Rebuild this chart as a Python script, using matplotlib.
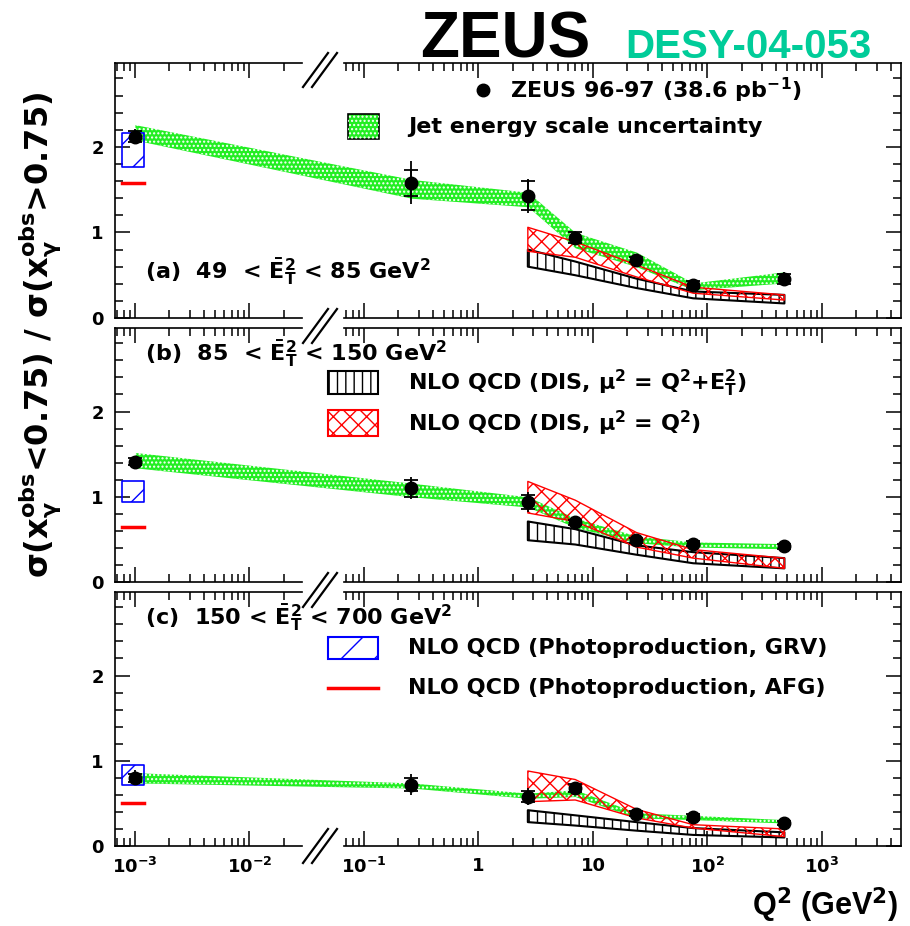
import matplotlib.pyplot as plt
from matplotlib.lines import Line2D
from matplotlib.patches import Rectangle
from matplotlib.ticker import FixedLocator, FixedFormatter, NullFormatter, MultipleLocator

plt.rcParams['font.family'] = ['DejaVu Sans']
plt.rcParams['font.weight'] = 'bold'
plt.rcParams['mathtext.default'] = 'bf'
plt.rcParams['hatch.linewidth'] = 1.0

# Q^2 values of the bins (GeV^2); photoproduction point drawn at 1e-3
q2_all = [1e-3, 0.26, 2.7, 7.0, 24.0, 75.0, 470.0]
q2_nlo = [2.7, 7.0, 24.0, 75.0, 470.0]
q2_gp = 1e-3

xtick_vals = [1e-3, 1e-2, 1e-1, 1, 10, 1e2, 1e3]
xtick_labels = [r'$10^{-3}$', r'$10^{-2}$', r'$10^{-1}$', '1', '10', r'$10^{2}$', r'$10^{3}$']

# panel (a) 49 < ET^2 < 85
ratio_a = [2.12, 1.58, 1.43, 0.94, 0.68, 0.39, 0.46]
stat_a = [0.06, 0.15, 0.17, 0.06, 0.03, 0.04, 0.06]
tot_a = [0.09, 0.25, 0.20, 0.08, 0.04, 0.05, 0.08]
jes_lo_a = [2.08, 1.40, 1.30, 0.82, 0.60, 0.33, 0.41]
jes_hi_a = [2.26, 1.62, 1.47, 1.00, 0.77, 0.41, 0.54]
dis_et_lo_a = [0.60, 0.50, 0.35, 0.23, 0.17]
dis_et_hi_a = [0.80, 0.66, 0.46, 0.31, 0.27]
dis_q_lo_a = [0.78, 0.71, 0.48, 0.29, 0.21]
dis_q_hi_a = [1.06, 0.89, 0.62, 0.36, 0.27]
grv_a = (1.77, 2.16)
afg_a = 1.58

# panel (b) 85 < ET^2 < 150
ratio_b = [1.41, 1.10, 0.94, 0.70, 0.49, 0.45, 0.42]
stat_b = [0.04, 0.10, 0.08, 0.03, 0.03, 0.03, 0.03]
tot_b = [0.07, 0.13, 0.12, 0.05, 0.03, 0.03, 0.03]
jes_lo_b = [1.34, 1.00, 0.88, 0.64, 0.46, 0.41, 0.39]
jes_hi_b = [1.52, 1.16, 1.00, 0.75, 0.54, 0.47, 0.45]
dis_et_lo_b = [0.49, 0.44, 0.32, 0.22, 0.16]
dis_et_hi_b = [0.71, 0.62, 0.43, 0.35, 0.28]
dis_q_lo_b = [0.81, 0.71, 0.41, 0.28, 0.16]
dis_q_hi_b = [1.18, 0.96, 0.58, 0.38, 0.28]
grv_b = (0.94, 1.18)
afg_b = 0.65

# panel (c) 150 < ET^2 < 700
ratio_c = [0.80, 0.72, 0.58, 0.68, 0.38, 0.34, 0.27]
stat_c = [0.05, 0.08, 0.06, 0.05, 0.03, 0.03, 0.02]
tot_c = [0.09, 0.12, 0.10, 0.07, 0.03, 0.03, 0.02]
jes_lo_c = [0.74, 0.68, 0.56, 0.58, 0.33, 0.31, 0.27]
jes_hi_c = [0.86, 0.74, 0.62, 0.66, 0.39, 0.36, 0.31]
dis_et_lo_c = [0.28, 0.24, 0.18, 0.13, 0.10]
dis_et_hi_c = [0.42, 0.36, 0.28, 0.21, 0.16]
dis_q_lo_c = [0.52, 0.54, 0.33, 0.21, 0.11]
dis_q_hi_c = [0.88, 0.78, 0.43, 0.25, 0.20]
grv_c = (0.72, 0.95)
afg_c = 0.51

panel_labels = [
    r'(a)  49  < $\bar{E}_{T}^{2}$ < 85 GeV$^{2}$',
    r'(b)  85  < $\bar{E}_{T}^{2}$ < 150 GeV$^{2}$',
    r'(c)  150 < $\bar{E}_{T}^{2}$ < 700 GeV$^{2}$',
]

panels = [
    (ratio_a, stat_a, tot_a, jes_lo_a, jes_hi_a, dis_et_lo_a, dis_et_hi_a, dis_q_lo_a, dis_q_hi_a, grv_a, afg_a),
    (ratio_b, stat_b, tot_b, jes_lo_b, jes_hi_b, dis_et_lo_b, dis_et_hi_b, dis_q_lo_b, dis_q_hi_b, grv_b, afg_b),
    (ratio_c, stat_c, tot_c, jes_lo_c, jes_hi_c, dis_et_lo_c, dis_et_hi_c, dis_q_lo_c, dis_q_hi_c, grv_c, afg_c),
]

GREEN = '#22ee22'
W, H = 910, 926
XMIN, XMAX = 6.7e-4, 4.9e3
GAP = (0.0286, 0.067)
frames = [(63, 318), (328, 582), (592, 846)]

minor = []
for d in range(-4, 4):
    for m in range(2, 10):
        v = m * 10.0 ** d
        if XMIN < v < XMAX and not (GAP[0] < v < GAP[1]):
            minor.append(v)

fig = plt.figure(figsize=(W / 100, H / 100), dpi=100)
axes = []
for i, ((top, bot), p) in enumerate(zip(frames, panels)):
    ratio, stat, tot, jlo, jhi, elo, ehi, qlo, qhi, grv, afg = p
    ax = fig.add_axes([115 / W, 1 - bot / H, 786 / W, (bot - top) / H])
    axes.append(ax)
    ax.set_xscale('log')
    ax.set_xlim(XMIN, XMAX)
    ax.set_ylim(0, 2.98)

    # jet energy scale band
    ax.fill_between(q2_all, jlo, jhi, color=GREEN, lw=0, zorder=1)
    ax.fill_between(q2_all, jlo, jhi, facecolor='none', edgecolor='white', hatch='....', lw=0, zorder=1.1)
    # NLO DIS predictions
    ax.fill_between(q2_nlo, elo, ehi, facecolor='none', edgecolor='black', hatch='||', lw=1.5, zorder=2)
    ax.fill_between(q2_nlo, qlo, qhi, facecolor='none', edgecolor='red', hatch='xx', lw=1.0, zorder=2.1)
    # photoproduction predictions
    ax.fill_between([q2_gp / 1.3, q2_gp * 1.2], [grv[0]] * 2, [grv[1]] * 2,
                    facecolor='none', edgecolor='blue', hatch='/', lw=1.2, zorder=2)
    ax.plot([q2_gp / 1.3, q2_gp * 1.2], [afg, afg], color='red', lw=2.5, zorder=2)

    # data
    ax.errorbar(q2_all, ratio, yerr=tot, fmt='none', ecolor='black', elinewidth=1.3, zorder=3)
    ax.errorbar(q2_all, ratio, yerr=stat, fmt='o', color='black', ms=9, elinewidth=1.3,
                capsize=5, capthick=1.3, zorder=4)

    ax.text(0.038, [0.18, 0.9, 0.9][i], panel_labels[i], transform=ax.transAxes,
            fontsize=16, va='center', ha='left')

    # broken x axis
    for s in ('top', 'bottom'):
        ax.spines[s].set_visible(False)
    for s in ('left', 'right'):
        ax.spines[s].set_linewidth(1.2)
    tr = ax.get_xaxis_transform()
    for yy in (0, 1):
        ax.plot([XMIN, GAP[0]], [yy, yy], transform=tr, color='black', lw=1.2, clip_on=False)
        ax.plot([GAP[1], XMAX], [yy, yy], transform=tr, color='black', lw=1.2, clip_on=False)

    ax.xaxis.set_major_locator(FixedLocator(xtick_vals))
    ax.xaxis.set_minor_locator(FixedLocator(minor))
    ax.xaxis.set_minor_formatter(NullFormatter())
    if i == 2:
        ax.xaxis.set_major_formatter(FixedFormatter(xtick_labels))
    else:
        ax.xaxis.set_major_formatter(NullFormatter())
    ax.yaxis.set_major_locator(MultipleLocator(1))
    ax.yaxis.set_minor_locator(MultipleLocator(0.2))
    ax.tick_params(which='both', direction='in', top=True, right=True, width=1.1, labelsize=13)
    ax.tick_params(which='major', length=11, pad=8)
    ax.tick_params(which='minor', length=6)

# legends (drawn by hand at the reference positions)
ax = axes[0]
ax.plot([0.468], [0.894], 'o', color='black', ms=9, transform=ax.transAxes)
ax.text(0.503, 0.894, r'ZEUS 96-97 (38.6 pb$^{-1}$)', transform=ax.transAxes, fontsize=16, va='center')
ax.add_patch(Rectangle((0.296, 0.702), 0.04, 0.098, transform=ax.transAxes, facecolor=GREEN, edgecolor='black', lw=1.2))
ax.add_patch(Rectangle((0.296, 0.702), 0.04, 0.098, transform=ax.transAxes, facecolor='none', edgecolor='white', hatch='....', lw=0))
ax.text(0.373, 0.749, 'Jet energy scale uncertainty', transform=ax.transAxes, fontsize=16, va='center')

ax = axes[1]
ax.add_patch(Rectangle((0.271, 0.740), 0.064, 0.091, transform=ax.transAxes, facecolor='none', edgecolor='black', hatch='||', lw=1.5))
ax.text(0.373, 0.78, r'NLO QCD (DIS, $\mu^{2}$ = Q$^{2}$+E$_{T}^{2}$)', transform=ax.transAxes, fontsize=16, va='center')
ax.add_patch(Rectangle((0.271, 0.575), 0.064, 0.102, transform=ax.transAxes, facecolor='none', edgecolor='red', hatch='xx', lw=1.5))
ax.text(0.373, 0.626, r'NLO QCD (DIS, $\mu^{2}$ = Q$^{2}$)', transform=ax.transAxes, fontsize=16, va='center')

ax = axes[2]
ax.add_patch(Rectangle((0.271, 0.738), 0.064, 0.085, transform=ax.transAxes, facecolor='none', edgecolor='blue', hatch='/', lw=1.5))
ax.text(0.373, 0.78, 'NLO QCD (Photoproduction, GRV)', transform=ax.transAxes, fontsize=16, va='center')
ax.plot([0.271, 0.335], [0.622, 0.622], color='red', lw=2.5, transform=ax.transAxes)
ax.text(0.373, 0.622, 'NLO QCD (Photoproduction, AFG)', transform=ax.transAxes, fontsize=16, va='center')

# break marks
for yc in (70, 326, 590, 846):
    for dx in (0, 9):
        fig.add_artist(Line2D([(303 + dx) / W, (328 + dx) / W], [1 - (yc + 17) / H, 1 - (yc - 17) / H],
                              color='black', lw=1.6))

fig.text(40 / W, 1 - 335 / H,
         r'$\sigma$(x$_{\gamma}^{obs}$<0.75) / $\sigma$(x$_{\gamma}^{obs}$>0.75)',
         rotation=90, ha='center', va='center', fontsize=23)
fig.text(898 / W, 1 - 905 / H, r'Q$^{2}$ (GeV$^{2}$)', ha='right', va='center', fontsize=22,
         family='Liberation Sans')
fig.text(420 / W, 1 - 58 / H, 'ZEUS', ha='left', va='baseline', fontsize=46, family='Liberation Sans')
fig.text(625 / W, 1 - 58 / H, 'DESY-04-053', ha='left', va='baseline', fontsize=29,
         family='Liberation Sans', color='#00cc99')

fig.savefig('out.png', dpi=100)
